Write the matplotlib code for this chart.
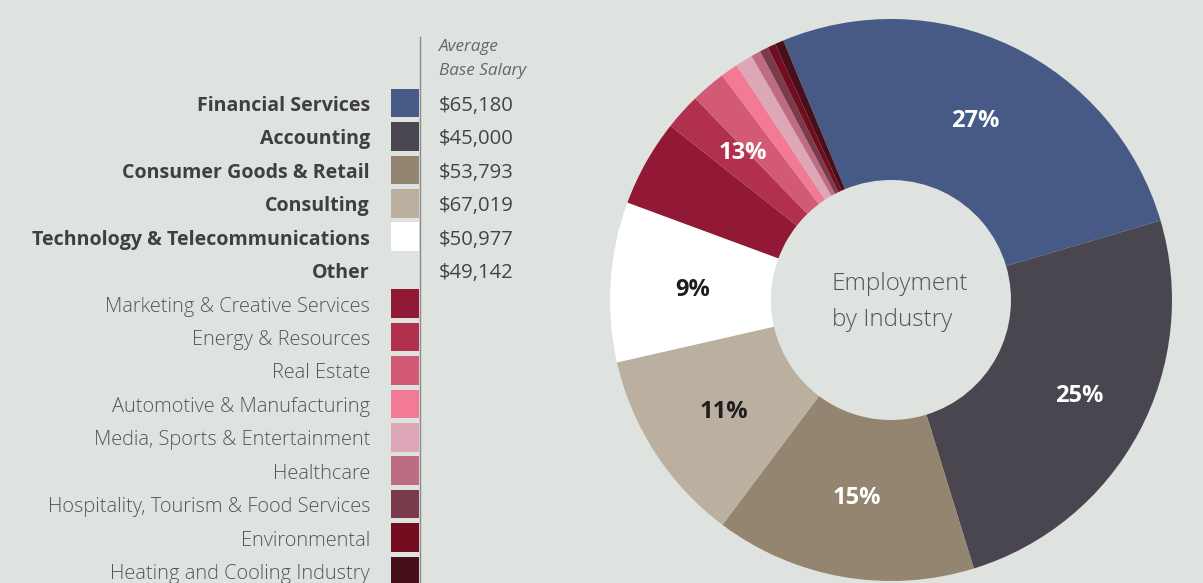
import matplotlib
matplotlib.use("Agg")
import matplotlib.pyplot as plt
import numpy as np
from matplotlib import font_manager

# ---------------- data ----------------
main_categories = ["Financial Services", "Accounting", "Consumer Goods & Retail",
                   "Consulting", "Technology & Telecommunications", "Other"]
main_salaries = ["$65,180", "$45,000", "$53,793", "$67,019", "$50,977", "$49,142"]
main_shares = [26.7, 24.8, 15.0, 11.2, 9.2]
main_labels = ["27%", "25%", "15%", "11%", "9%"]
main_colors = ["#465A85", "#4A4650", "#93856F", "#BBAFA0", "#FFFFFF"]

other_categories = ["Marketing & Creative Services", "Energy & Resources", "Real Estate",
                    "Automotive & Manufacturing", "Media, Sports & Entertainment",
                    "Healthcare", "Hospitality, Tourism & Food Services",
                    "Environmental", "Heating and Cooling Industry"]
other_shares = [5.0, 2.1, 2.0, 1.0, 1.0, 0.55, 0.5, 0.45, 0.5]
other_label = "13%"
other_colors = ["#911935", "#B0304E", "#D25A74", "#F27A94", "#DDA7B8",
                "#BE6C82", "#7A3C4C", "#720C1E", "#470F19"]

center_text = "Employment\nby Industry"
salary_header = ["Average", "Base Salary"]

BG = "#DFE3E0"
W, H = 1203, 583

avail = {f.name for f in font_manager.fontManager.ttflist}
FONT = "Open Sans" if "Open Sans" in avail else "DejaVu Sans"
plt.rcParams["font.family"] = [FONT, "DejaVu Sans"]

fig = plt.figure(figsize=(W / 100, H / 100), dpi=100, facecolor=BG)

def fx(px):
    return px / W

def fy(py):
    return 1 - py / H

# ---------------- donut ----------------
cx, cy, R, r_in = 891, 300, 281, 120
ax = fig.add_axes([fx(cx - R), fy(cy + R), 2 * R / W, 2 * R / H])
ax.set_facecolor(BG)
shares = main_shares + other_shares
colors = main_colors + other_colors
wedges, _ = ax.pie(shares, colors=colors, startangle=112.55, counterclock=False,
                   radius=1, wedgeprops=dict(width=1 - r_in / R, linewidth=0))
ax.set_xlim(-1, 1)
ax.set_ylim(-1, 1)
ax.set_aspect("equal")
ax.axis("off")

label_colors = ["white", "white", "white", "#1E1E1E", "#1E1E1E"]
label_rs = [0.715, 0.745, 0.705, 0.71, 0.708]
angle_adj = [0.8, 2.0, 0.0, 0.0, 0.0]
for w, lab, lc, lr, da in zip(wedges[:5], main_labels, label_colors, label_rs, angle_adj):
    mid = np.deg2rad((w.theta1 + w.theta2) / 2 + da)
    ax.annotate(lab, (lr * np.cos(mid), lr * np.sin(mid)), xytext=(0, -2.3),
                textcoords="offset points", ha="center", va="center",
                fontsize=17, fontweight="bold", color=lc)
ow = wedges[5:]
t1 = min(w.theta1 for w in ow)
t2 = max(w.theta2 for w in ow)
mid = np.deg2rad((t1 + t2) / 2 - 1.5)
ax.annotate(other_label, (0.75 * np.cos(mid), 0.75 * np.sin(mid)), xytext=(0, -2.3),
            textcoords="offset points", ha="center", va="center",
            fontsize=17, fontweight="bold", color="white")

fig.text(fx(832), fy(302), center_text, ha="left", va="center", fontsize=17.5,
         fontweight="light", color="#555555", linespacing=1.65, multialignment="left")

# ---------------- legend / table ----------------
lax = fig.add_axes([0, 0, 1, 1])
lax.set_xlim(0, W)
lax.set_ylim(H, 0)
lax.axis("off")
lax.patch.set_alpha(0)

label_x = 370
sw_x0, sw_x1 = 391, 419
val_x = 439
row_h = 33.43
sw_h = 28.5
txt_dy = 2.0

lax.plot([419.5, 419.5], [37, H], color="#8A8A8A", lw=1.0)
lax.text(val_x, 47, salary_header[0], ha="left", va="center", fontsize=12.3,
         style="italic", color="#666666")
lax.text(val_x, 71, salary_header[1], ha="left", va="center", fontsize=12.3,
         style="italic", color="#666666")

y0 = 104
for i, (cat, sal) in enumerate(zip(main_categories, main_salaries)):
    y = y0 + i * row_h
    lax.text(label_x, y + txt_dy, cat, ha="right", va="center", fontsize=14.1,
             fontweight="bold", color="#3F3F3F")
    lax.text(val_x, y + txt_dy, sal, ha="left", va="center", fontsize=14.6,
             color="#444444")
    if i < len(main_colors):
        lax.add_patch(plt.Rectangle((sw_x0, y - sw_h / 2 - 1), sw_x1 - sw_x0, sw_h,
                                    facecolor=main_colors[i], edgecolor="none"))

y1 = y0 + 6 * row_h
for j, (cat, col) in enumerate(zip(other_categories, other_colors)):
    y = y1 + j * row_h
    lax.text(label_x, y + txt_dy, cat, ha="right", va="center", fontsize=14.4,
             fontweight="light", color="#555555")
    lax.add_patch(plt.Rectangle((sw_x0, y - sw_h / 2 - 1), sw_x1 - sw_x0, sw_h,
                                facecolor=col, edgecolor="none"))

fig.savefig("out.png", dpi=100, facecolor=BG)
